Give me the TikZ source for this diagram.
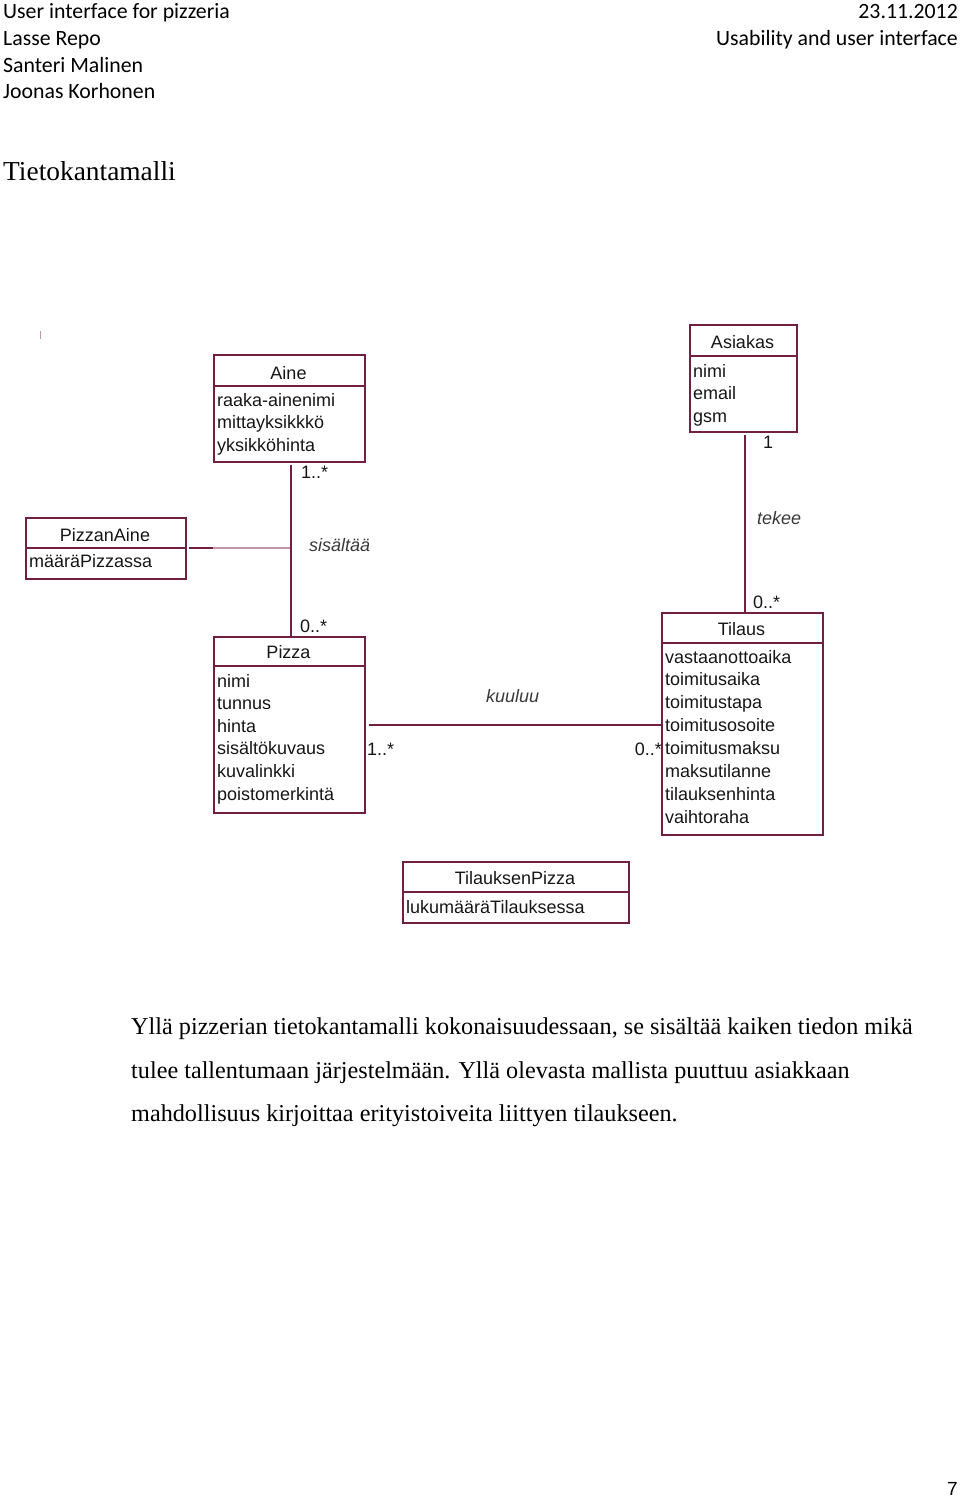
\documentclass[tikz,border=0pt]{standalone}
\usepackage{fontspec}
\setmainfont{Liberation Serif}
\newfontfamily\calib{Carlito}
\newfontfamily\arialf{Liberation Sans}
\definecolor{umlc}{HTML}{72203F}
\definecolor{umllight}{HTML}{C495A6}
\definecolor{txt}{HTML}{161616}
\begin{document}
\begin{tikzpicture}[x=1pt,y=-1pt,
  box/.style={draw=umlc, line width=1.9pt, inner sep=0pt, anchor=north west},
  divider/.style={draw=umlc, line width=1.9pt},
  conn/.style={draw=umlc, line width=1.9pt},
  hd/.style={font=\arialf\fontsize{18}{18}\selectfont, text=txt, anchor=base, inner sep=0pt},
  attr/.style={font=\arialf\fontsize{18}{18}\selectfont, text=txt, anchor=base west, inner sep=0pt},
  lbl/.style={font=\arialf\fontsize{18}{18}\selectfont, text=txt, anchor=base west, inner sep=0pt},
  ilbl/.style={font=\arialf\itshape\fontsize{18}{18}\selectfont, text=txt!85, anchor=base west, inner sep=0pt},
  hdr/.style={font=\calib\fontsize{21.8}{21.8}\selectfont, text=black, inner sep=0pt},
  body/.style={font=\fontsize{24.2}{24.2}\selectfont, text=black, anchor=base west, inner sep=0pt}
]
\useasboundingbox (0,0) rectangle (960,1497);

% header
\node[hdr, anchor=base west] (h1) at (3,18) {User interface for pizzeria};
\node[hdr, anchor=base west] (h2) at (3,45) {Lasse Repo};
\node[hdr, anchor=base west] (h3) at (3,72) {Santeri Malinen};
\node[hdr, anchor=base west] (h4) at (3,98) {Joonas Korhonen};
\node[hdr, anchor=base east] (h5) at (958,18) {23.11.2012};
\node[hdr, anchor=base east] (h6) at (958,45) {Usability and user interface};

\node[font=\fontsize{27.4}{27.4}\selectfont, anchor=base west, inner sep=0pt] (title) at (3,180) {Tietokantamalli};

% stray mark
\draw[umllight, line width=1pt] (40,331) -- (40,339);

% Aine
\node[box, minimum width=151pt, minimum height=107pt] (aine) at (213,354) {};
\draw[divider] (213,386) -- (364,386);
\node[hd] (aineh) at (288.5,379) {Aine};
\node[attr] (a1) at (217,406) {raaka-ainenimi};
\node[attr] (a2) at (217,428.5) {mittayksikkkö};
\node[attr] (a3) at (217,451) {yksikköhinta};

% Asiakas
\node[box, minimum width=107pt, minimum height=107pt] (asiakas) at (689,324) {};
\draw[divider] (689,356) -- (796,356);
\node[hd] (asiakash) at (742.5,348) {Asiakas};
\node[attr] (s1) at (693,377) {nimi};
\node[attr] (s2) at (693,399.5) {email};
\node[attr] (s3) at (693,422) {gsm};

% PizzanAine
\node[box, minimum width=160pt, minimum height=61pt] (pizzanaine) at (25,517) {};
\draw[divider] (25,548) -- (185,548);
\node[hd] (pah) at (105,541) {PizzanAine};
\node[attr] (pa1) at (29,567) {määräPizzassa};

% Pizza
\node[box, minimum width=151pt, minimum height=176pt] (pizza) at (213,636) {};
\draw[divider] (213,666) -- (364,666);
\node[hd] (pizzah) at (288.5,658) {Pizza};
\node[attr] (p1) at (217,687) {nimi};
\node[attr] (p2) at (217,709.6) {tunnus};
\node[attr] (p3) at (217,732.2) {hinta};
\node[attr] (p4) at (217,754.8) {sisältökuvaus};
\node[attr] (p5) at (217,777.4) {kuvalinkki};
\node[attr] (p6) at (217,800) {poistomerkintä};

% Tilaus
\node[box, minimum width=161pt, minimum height=222pt] (tilaus) at (661,612) {};
\draw[divider] (661,643) -- (822,643);
\node[hd] (tilaush) at (741.5,635) {Tilaus};
\node[attr] (t1) at (665,663) {vastaanottoaika};
\node[attr] (t2) at (665,685.9) {toimitusaika};
\node[attr] (t3) at (665,708.7) {toimitustapa};
\node[attr] (t4) at (665,731.6) {toimitusosoite};
\node[attr] (t5) at (665,754.4) {toimitusmaksu};
\node[attr] (t6) at (665,777.3) {maksutilanne};
\node[attr] (t7) at (665,800.1) {tilauksenhinta};
\node[attr] (t8) at (665,823) {vaihtoraha};

% TilauksenPizza
\node[box, minimum width=226pt, minimum height=61pt] (tp) at (402,861) {};
\draw[divider] (402,892) -- (628,892);
\node[hd] (tph) at (515,884) {TilauksenPizza};
\node[attr] (tp1) at (406,913) {lukumääräTilauksessa};

% connectors
\coordinate (aineb) at ([xshift=1.5pt,yshift=-2pt]aine.south);
\coordinate (pizzat) at ([xshift=1.5pt]pizza.north);
\draw[conn] (aineb) -- (pizzat);
\coordinate (junc) at (290,548);
\coordinate (pae) at ([xshift=2pt]pizzanaine.east |- junc);
\coordinate (pamid) at (213,548);
\draw[conn] (pae) -- (pamid);
\draw[umllight, line width=1.9pt] (pamid) -- (junc);

\coordinate (asb) at ([xshift=1.5pt,yshift=-2pt]asiakas.south);
\coordinate (tilt) at (asb |- tilaus.north);
\draw[conn] (asb) -- (tilt);

\coordinate (pze) at ([xshift=3pt]pizza.east);
\coordinate (tiw) at (tilaus.west |- pze);
\draw[conn] (pze) -- (tiw);

% labels
\node[lbl] (m1) at (301,478) {1..*};
\node[ilbl] (r1) at (309,551) {sisältää};
\node[lbl] (m2) at (300,632) {0..*};
\node[lbl] (m3) at (763,448) {1};
\node[ilbl] (r2) at (757,524) {tekee};
\node[lbl] (m4) at (753,608) {0..*};
\node[ilbl] (r3) at (486,702) {kuuluu};
\node[lbl] (m5) at (367,755) {1..*};
\node[lbl, anchor=base east] (m6) at (662,755) {0..*};

% body text
\node[body] (b1) at (131,1034) {Yllä pizzerian tietokantamalli kokonaisuudessaan, se sisältää kaiken tiedon mikä};
\node[body] (b2) at (131,1078) {tulee tallentumaan järjestelmään. Yllä olevasta mallista puuttuu asiakkaan};
\node[body] (b3) at (131,1121) {mahdollisuus kirjoittaa erityistoiveita liittyen tilaukseen.};

\node[font=\arialf\fontsize{19}{19}\selectfont, anchor=base east, inner sep=0pt] (pg) at (958,1495) {7};
\end{tikzpicture}
\end{document}
